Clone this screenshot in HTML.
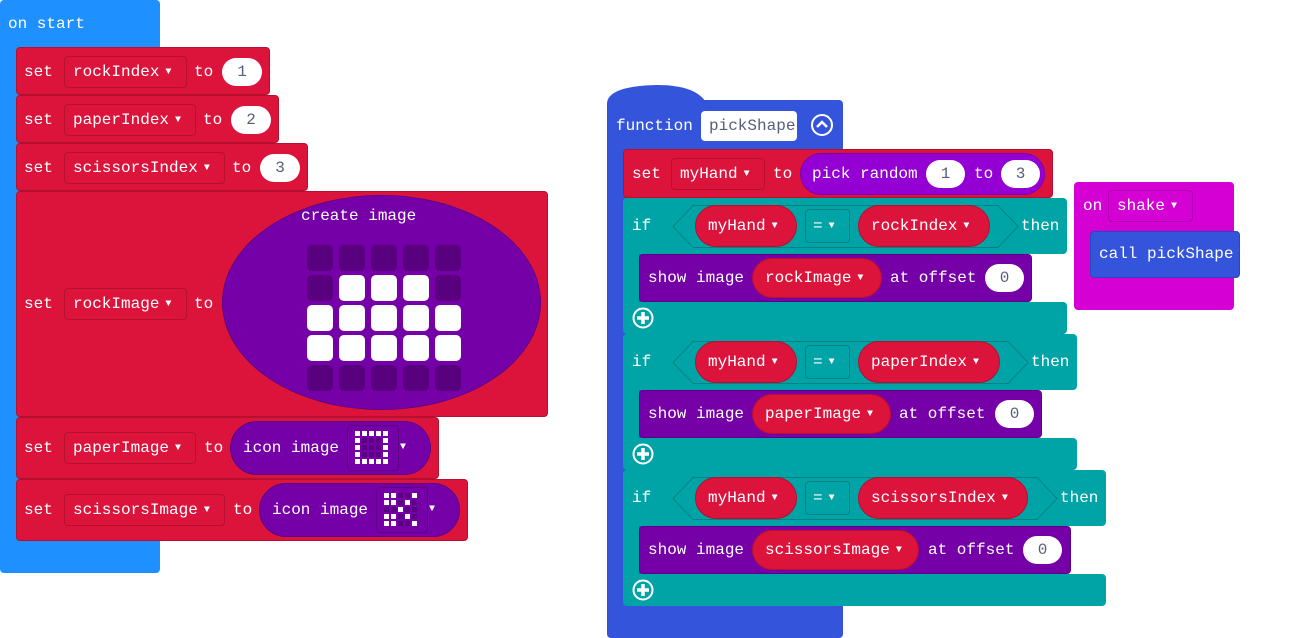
<!DOCTYPE html>
<html><head><meta charset="utf-8"><style>
body{margin:0;width:1291px;height:638px;background:#fff;position:relative;overflow:hidden;font-family:"Liberation Mono","DejaVu Sans Mono",monospace;font-size:16px}
div,span,i{position:absolute;box-sizing:border-box;font-style:normal}
.r{background:#dc143c;border:1px solid #b5102f;border-radius:4px}
.t{color:#fff;height:20px;line-height:20px;white-space:nowrap}
.f{border:1px solid #b5102f;border-radius:4px;color:#fff;line-height:30px;padding-left:8px;white-space:nowrap;height:32px}
.p{background:#fff;border-radius:14px;color:#575e75;text-align:center;height:28px;line-height:28px}
.pr{background:#dc143c;border:1px solid #b5102f;border-radius:21px;color:#fff;padding-left:12px;white-space:nowrap}
.a{font-size:10px;vertical-align:2px;margin-left:6px}
.pu{background:#7600a8;border:1px solid #5e0086}
.te{background:#00a4a6}
.cell{width:26px;height:26px;border-radius:5px;background:#58007e}
.on{background:#fff}
</style></head><body>

<!-- on start -->
<div style="left:0;top:0;width:160px;height:573px;background:#1e90ff;border-radius:4px"></div>
<span class="t" style="left:8px;top:14px">on start</span>

<div class="r" style="left:16px;top:47px;width:254px;height:48px"></div>
<span class="t" style="left:24px;top:62px">set</span>
<div class="f" style="left:64px;top:56px;width:123px">rockIndex<span class="a" style="position:static">▼</span></div>
<span class="t" style="left:194px;top:62px">to</span>
<div class="p" style="left:222px;top:58px;width:40px">1</div>

<div class="r" style="left:16px;top:95px;width:263px;height:48px"></div>
<span class="t" style="left:24px;top:110px">set</span>
<div class="f" style="left:64px;top:104px;width:132px">paperIndex<span class="a" style="position:static">▼</span></div>
<span class="t" style="left:203px;top:110px">to</span>
<div class="p" style="left:231px;top:106px;width:40px">2</div>

<div class="r" style="left:16px;top:143px;width:292px;height:48px"></div>
<span class="t" style="left:24px;top:158px">set</span>
<div class="f" style="left:64px;top:152px;width:161px">scissorsIndex<span class="a" style="position:static">▼</span></div>
<span class="t" style="left:232px;top:158px">to</span>
<div class="p" style="left:260px;top:154px;width:40px">3</div>

<div class="r" style="left:16px;top:191px;width:532px;height:226px"></div>
<span class="t" style="left:24px;top:294px">set</span>
<div class="f" style="left:64px;top:288px;width:123px">rockImage<span class="a" style="position:static">▼</span></div>
<span class="t" style="left:194px;top:294px">to</span>
<div class="pu" style="left:222px;top:195px;width:319px;height:215px;border-radius:50%"></div>
<span class="t" style="left:301px;top:206px">create image</span>
<div class="cell" style="left:307px;top:245px"></div><div class="cell" style="left:339px;top:245px"></div><div class="cell" style="left:371px;top:245px"></div><div class="cell" style="left:403px;top:245px"></div><div class="cell" style="left:435px;top:245px"></div>
<div class="cell" style="left:307px;top:275px"></div><div class="cell on" style="left:339px;top:275px"></div><div class="cell on" style="left:371px;top:275px"></div><div class="cell on" style="left:403px;top:275px"></div><div class="cell" style="left:435px;top:275px"></div>
<div class="cell on" style="left:307px;top:305px"></div><div class="cell on" style="left:339px;top:305px"></div><div class="cell on" style="left:371px;top:305px"></div><div class="cell on" style="left:403px;top:305px"></div><div class="cell on" style="left:435px;top:305px"></div>
<div class="cell on" style="left:307px;top:335px"></div><div class="cell on" style="left:339px;top:335px"></div><div class="cell on" style="left:371px;top:335px"></div><div class="cell on" style="left:403px;top:335px"></div><div class="cell on" style="left:435px;top:335px"></div>
<div class="cell" style="left:307px;top:365px"></div><div class="cell" style="left:339px;top:365px"></div><div class="cell" style="left:371px;top:365px"></div><div class="cell" style="left:403px;top:365px"></div><div class="cell" style="left:435px;top:365px"></div>

<div class="r" style="left:16px;top:417px;width:423px;height:62px"></div>
<span class="t" style="left:24px;top:438px">set</span>
<div class="f" style="left:64px;top:432px;width:132px">paperImage<span class="a" style="position:static">▼</span></div>
<span class="t" style="left:204px;top:438px">to</span>
<div class="pu" style="left:230px;top:421px;width:201px;height:54px;border-radius:27px"></div>
<span class="t" style="left:243px;top:438px">icon image</span>
<div style="left:347px;top:425px;width:52px;height:46px;border:1px solid #5e0086;border-radius:4px"></div>
<svg style="position:absolute;left:355px;top:431px" width="35" height="35">
<g fill="#5a0080"><rect x="7" y="7" width="5" height="5"/><rect x="14" y="7" width="5" height="5"/><rect x="21" y="7" width="5" height="5"/><rect x="7" y="14" width="5" height="5"/><rect x="14" y="14" width="5" height="5"/><rect x="21" y="14" width="5" height="5"/><rect x="7" y="21" width="5" height="5"/><rect x="14" y="21" width="5" height="5"/><rect x="21" y="21" width="5" height="5"/></g>
<g fill="#fff"><rect x="0" y="0" width="5" height="5"/><rect x="7" y="0" width="5" height="5"/><rect x="14" y="0" width="5" height="5"/><rect x="21" y="0" width="5" height="5"/><rect x="28" y="0" width="5" height="5"/><rect x="0" y="28" width="5" height="5"/><rect x="7" y="28" width="5" height="5"/><rect x="14" y="28" width="5" height="5"/><rect x="21" y="28" width="5" height="5"/><rect x="28" y="28" width="5" height="5"/><rect x="0" y="7" width="5" height="5"/><rect x="0" y="14" width="5" height="5"/><rect x="0" y="21" width="5" height="5"/><rect x="28" y="7" width="5" height="5"/><rect x="28" y="14" width="5" height="5"/><rect x="28" y="21" width="5" height="5"/></g></svg>
<span class="t" style="left:400px;top:438px;font-size:10px">▼</span>

<div class="r" style="left:16px;top:479px;width:452px;height:62px"></div>
<span class="t" style="left:24px;top:500px">set</span>
<div class="f" style="left:64px;top:494px;width:161px">scissorsImage<span class="a" style="position:static">▼</span></div>
<span class="t" style="left:233px;top:500px">to</span>
<div class="pu" style="left:259px;top:483px;width:201px;height:54px;border-radius:27px"></div>
<span class="t" style="left:272px;top:500px">icon image</span>
<div style="left:376px;top:487px;width:52px;height:46px;border:1px solid #5e0086;border-radius:4px"></div>
<svg style="position:absolute;left:384px;top:493px" width="35" height="35">
<g fill="#5a0080"><rect x="14" y="0" width="5" height="5"/><rect x="21" y="0" width="5" height="5"/><rect x="14" y="7" width="5" height="5"/><rect x="28" y="7" width="5" height="5"/><rect x="0" y="14" width="5" height="5"/><rect x="7" y="14" width="5" height="5"/><rect x="21" y="14" width="5" height="5"/><rect x="28" y="14" width="5" height="5"/><rect x="14" y="21" width="5" height="5"/><rect x="28" y="21" width="5" height="5"/><rect x="14" y="28" width="5" height="5"/><rect x="21" y="28" width="5" height="5"/></g>
<g fill="#fff"><rect x="0" y="0" width="5" height="5"/><rect x="7" y="0" width="5" height="5"/><rect x="28" y="0" width="5" height="5"/><rect x="0" y="7" width="5" height="5"/><rect x="7" y="7" width="5" height="5"/><rect x="21" y="7" width="5" height="5"/><rect x="14" y="14" width="5" height="5"/><rect x="0" y="21" width="5" height="5"/><rect x="7" y="21" width="5" height="5"/><rect x="21" y="21" width="5" height="5"/><rect x="0" y="28" width="5" height="5"/><rect x="7" y="28" width="5" height="5"/><rect x="28" y="28" width="5" height="5"/></g></svg>
<span class="t" style="left:429px;top:500px;font-size:10px">▼</span>

<!-- function -->
<svg style="position:absolute;left:607px;top:84px" width="100" height="20"><path d="M0 20 Q0 2 50 1 Q90 1 100 20 Z" fill="#3455db"/></svg>
<div style="left:607px;top:100px;width:236px;height:538px;background:#3455db;border-radius:4px"></div>
<span class="t" style="left:616px;top:116px">function</span>
<div style="left:701px;top:111px;width:96px;height:30px;background:#fff;border-radius:4px;color:#575e75;line-height:30px;padding-left:8px">pickShape</div>
<svg style="position:absolute;left:810px;top:113px" width="24" height="24"><circle cx="12" cy="12" r="10" fill="none" stroke="#fff" stroke-width="2"/><path d="M7 14 L12 9 L17 14" fill="none" stroke="#fff" stroke-width="2.5"/></svg>

<div class="r" style="left:623px;top:149px;width:430px;height:49px"></div>
<span class="t" style="left:632px;top:164px">set</span>
<div class="f" style="left:671px;top:158px;width:94px">myHand<span class="a" style="position:static">▼</span></div>
<span class="t" style="left:773px;top:164px">to</span>
<div style="left:800px;top:153px;width:245px;height:42px;background:#9400d3;border:1px solid #7a00ae;border-radius:21px"></div>
<span class="t" style="left:812px;top:164px">pick random</span>
<div class="p" style="left:926px;top:160px;width:39px">1</div>
<span class="t" style="left:974px;top:164px">to</span>
<div class="p" style="left:1001px;top:160px;width:39px">3</div>

<!-- if blocks -->
<div class="te" style="left:623px;top:198px;width:444px;height:56px;border-radius:4px"></div>
<div class="te" style="left:623px;top:250px;width:16px;height:60px"></div>
<div class="te" style="left:623px;top:302px;width:444px;height:32px;border-radius:4px"></div>
<span class="t" style="left:632px;top:216px">if</span>
<svg style="position:absolute;left:672px;top:205px" width="347" height="43"><polygon points="21,0.5 326,0.5 346,21.5 326,42.5 21,42.5 1,21.5" fill="none" stroke="#008385" stroke-width="1"/></svg>
<div class="pr" style="left:695px;top:205px;width:102px;height:42px;line-height:40px">myHand<span class="a" style="position:static">▼</span></div>
<div style="left:805px;top:209px;width:45px;height:34px;border:1px solid #008385;border-radius:4px;color:#fff;line-height:32px;padding-left:7px">=<span class="a" style="position:static">▼</span></div>
<div class="pr" style="left:858px;top:205px;width:132px;height:42px;line-height:40px">rockIndex<span class="a" style="position:static">▼</span></div>
<span class="t" style="left:1021px;top:216px">then</span>
<div class="pu" style="left:639px;top:254px;width:393px;height:48px;border-radius:4px"></div>
<span class="t" style="left:648px;top:268px">show image</span>
<div class="pr" style="left:752px;top:258px;width:130px;height:40px;line-height:38px">rockImage<span class="a" style="position:static">▼</span></div>
<span class="t" style="left:890px;top:268px">at offset</span>
<div class="p" style="left:985px;top:264px;width:39px">0</div>
<svg style="position:absolute;left:632px;top:307px" width="22" height="22"><circle cx="11" cy="11" r="9.5" fill="none" stroke="#fff" stroke-width="2"/><path d="M11 5V17M5 11H17" stroke="#fff" stroke-width="3.5"/></svg>

<div class="te" style="left:623px;top:334px;width:454px;height:56px;border-radius:4px"></div>
<div class="te" style="left:623px;top:386px;width:16px;height:60px"></div>
<div class="te" style="left:623px;top:438px;width:454px;height:32px;border-radius:4px"></div>
<span class="t" style="left:632px;top:352px">if</span>
<svg style="position:absolute;left:672px;top:341px" width="357" height="43"><polygon points="21,0.5 336,0.5 356,21.5 336,42.5 21,42.5 1,21.5" fill="none" stroke="#008385" stroke-width="1"/></svg>
<div class="pr" style="left:695px;top:341px;width:102px;height:42px;line-height:40px">myHand<span class="a" style="position:static">▼</span></div>
<div style="left:805px;top:345px;width:45px;height:34px;border:1px solid #008385;border-radius:4px;color:#fff;line-height:32px;padding-left:7px">=<span class="a" style="position:static">▼</span></div>
<div class="pr" style="left:858px;top:341px;width:142px;height:42px;line-height:40px">paperIndex<span class="a" style="position:static">▼</span></div>
<span class="t" style="left:1031px;top:352px">then</span>
<div class="pu" style="left:639px;top:390px;width:403px;height:48px;border-radius:4px"></div>
<span class="t" style="left:648px;top:404px">show image</span>
<div class="pr" style="left:752px;top:394px;width:139px;height:40px;line-height:38px">paperImage<span class="a" style="position:static">▼</span></div>
<span class="t" style="left:899px;top:404px">at offset</span>
<div class="p" style="left:995px;top:400px;width:39px">0</div>
<svg style="position:absolute;left:632px;top:443px" width="22" height="22"><circle cx="11" cy="11" r="9.5" fill="none" stroke="#fff" stroke-width="2"/><path d="M11 5V17M5 11H17" stroke="#fff" stroke-width="3.5"/></svg>

<div class="te" style="left:623px;top:470px;width:483px;height:56px;border-radius:4px"></div>
<div class="te" style="left:623px;top:522px;width:16px;height:60px"></div>
<div class="te" style="left:623px;top:574px;width:483px;height:32px;border-radius:4px"></div>
<span class="t" style="left:632px;top:488px">if</span>
<svg style="position:absolute;left:672px;top:477px" width="386" height="43"><polygon points="21,0.5 365,0.5 385,21.5 365,42.5 21,42.5 1,21.5" fill="none" stroke="#008385" stroke-width="1"/></svg>
<div class="pr" style="left:695px;top:477px;width:102px;height:42px;line-height:40px">myHand<span class="a" style="position:static">▼</span></div>
<div style="left:805px;top:481px;width:45px;height:34px;border:1px solid #008385;border-radius:4px;color:#fff;line-height:32px;padding-left:7px">=<span class="a" style="position:static">▼</span></div>
<div class="pr" style="left:858px;top:477px;width:170px;height:42px;line-height:40px">scissorsIndex<span class="a" style="position:static">▼</span></div>
<span class="t" style="left:1060px;top:488px">then</span>
<div class="pu" style="left:639px;top:526px;width:432px;height:48px;border-radius:4px"></div>
<span class="t" style="left:648px;top:540px">show image</span>
<div class="pr" style="left:752px;top:530px;width:167px;height:40px;line-height:38px">scissorsImage<span class="a" style="position:static">▼</span></div>
<span class="t" style="left:928px;top:540px">at offset</span>
<div class="p" style="left:1023px;top:536px;width:39px">0</div>
<svg style="position:absolute;left:632px;top:579px" width="22" height="22"><circle cx="11" cy="11" r="9.5" fill="none" stroke="#fff" stroke-width="2"/><path d="M11 5V17M5 11H17" stroke="#fff" stroke-width="3.5"/></svg>

<!-- on shake -->
<div style="left:1074px;top:182px;width:160px;height:128px;background:#d400d4;border-radius:4px"></div>
<span class="t" style="left:1083px;top:196px">on</span>
<div style="left:1108px;top:190px;width:85px;height:32px;border:1px solid #b000b0;border-radius:4px;color:#fff;line-height:30px;padding-left:8px">shake<span class="a" style="position:static">▼</span></div>
<div style="left:1090px;top:231px;width:150px;height:47px;background:#3455db;border:1px solid #2a46b8;border-radius:4px"></div>
<span class="t" style="left:1099px;top:244px">call pickShape</span>
</body></html>
